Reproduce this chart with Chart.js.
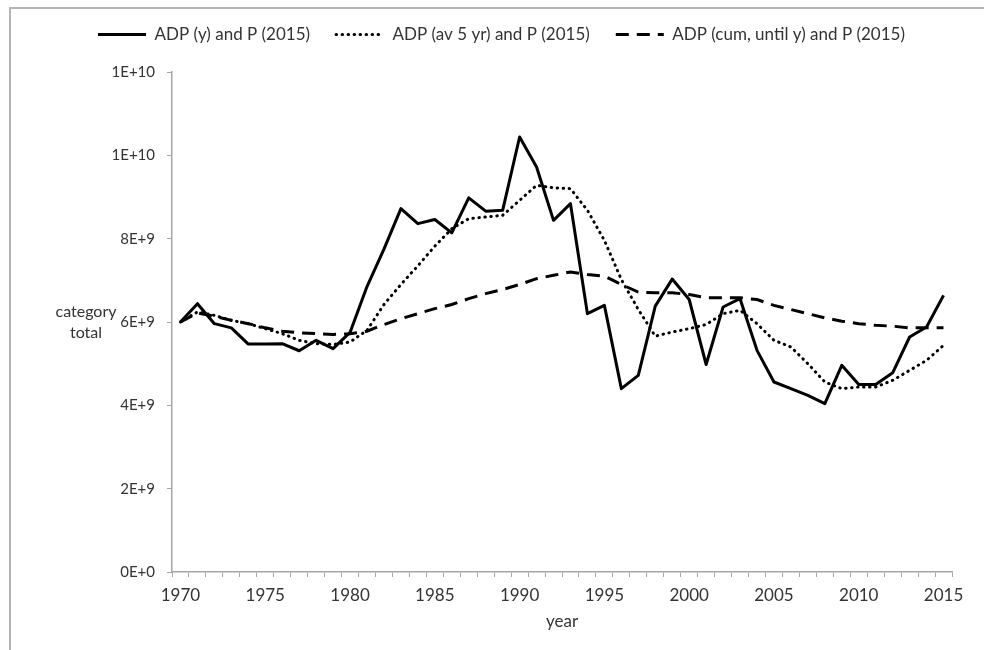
<!DOCTYPE html>
<html>
<head>
<meta charset="utf-8">
<script src="https://cdn.jsdelivr.net/npm/chart.js@4.4.1/dist/chart.umd.min.js"></script>
<style>
  html, body { margin: 0; padding: 0; background: #fff; overflow: hidden; }
  #frame { position: absolute; left: 9px; top: 7px; width: 1000px; height: 700px;
           border-left: 2px solid #b4b4b4; border-top: 2px solid #b4b4b4; }
  #wrap { position: absolute; left: 0; top: 0; width: 984px; height: 650px; }
</style>
</head>
<body>
<div id="frame"></div>
<div id="wrap"><canvas id="canvas" width="984" height="650"></canvas></div>
<script>
var years = [1970, 1971, 1972, 1973, 1974, 1975, 1976, 1977, 1978, 1979,
             1980, 1981, 1982, 1983, 1984, 1985, 1986, 1987, 1988, 1989,
             1990, 1991, 1992, 1993, 1994, 1995, 1996, 1997, 1998, 1999,
             2000, 2001, 2002, 2003, 2004, 2005, 2006, 2007, 2008, 2009,
             2010, 2011, 2012, 2013, 2014, 2015];

// ADP (y) and P (2015)
var adpYear = [6.00e9, 6.44e9, 5.96e9, 5.86e9, 5.47e9, 5.47e9, 5.48e9, 5.31e9, 5.56e9, 5.36e9,
               5.75e9, 6.85e9, 7.75e9, 8.72e9, 8.36e9, 8.46e9, 8.14e9, 8.98e9, 8.66e9, 8.68e9,
               10.44e9, 9.72e9, 8.44e9, 8.84e9, 6.20e9, 6.40e9, 4.40e9, 4.72e9, 6.38e9, 7.03e9,
               6.54e9, 4.98e9, 6.36e9, 6.56e9, 5.32e9, 4.56e9, 4.40e9, 4.24e9, 4.04e9, 4.96e9,
               4.50e9, 4.50e9, 4.78e9, 5.64e9, 5.88e9, 6.64e9];

// ADP (av 5 yr) and P (2015)
var adpAv5 = [6.00e9, 6.24e9, 6.16e9, 6.04e9, 5.96e9, 5.84e9, 5.72e9, 5.56e9, 5.48e9, 5.46e9,
              5.52e9, 5.80e9, 6.42e9, 6.90e9, 7.35e9, 7.82e9, 8.24e9, 8.48e9, 8.52e9, 8.56e9,
              8.92e9, 9.28e9, 9.22e9, 9.20e9, 8.68e9, 7.96e9, 7.02e9, 6.30e9, 5.66e9, 5.76e9,
              5.84e9, 5.94e9, 6.20e9, 6.28e9, 5.96e9, 5.56e9, 5.40e9, 5.00e9, 4.56e9, 4.40e9,
              4.44e9, 4.44e9, 4.60e9, 4.84e9, 5.08e9, 5.44e9];

// ADP (cum, until y) and P (2015)
var adpCum = [6.00e9, 6.22e9, 6.14e9, 6.04e9, 5.96e9, 5.86e9, 5.78e9, 5.74e9, 5.72e9, 5.70e9,
              5.72e9, 5.78e9, 5.94e9, 6.08e9, 6.20e9, 6.32e9, 6.42e9, 6.56e9, 6.68e9, 6.78e9,
              6.90e9, 7.04e9, 7.12e9, 7.20e9, 7.14e9, 7.10e9, 6.90e9, 6.72e9, 6.70e9, 6.70e9,
              6.66e9, 6.58e9, 6.58e9, 6.58e9, 6.54e9, 6.40e9, 6.30e9, 6.20e9, 6.10e9, 6.02e9,
              5.96e9, 5.92e9, 5.90e9, 5.86e9, 5.86e9, 5.86e9];

var yTickLabels = ["0E+0", "2E+9", "4E+9", "6E+9", "8E+9", "1E+10", "1E+10"];

var FONT = "Lato, 'Open Sans', sans-serif";
var FSIZE = 17;
var TEXT = "#333333";
var AXIS = "#a6a6a6";

// horizontal y axis title, centred on the plot height
var yTitlePlugin = {
	id : 'yTitle',
	afterDraw : function(chart) {
		var ctx = chart.ctx, a = chart.chartArea;
		var mid = (a.top + a.bottom) / 2;
		ctx.save();
		ctx.font = "16px " + FONT;
		ctx.fillStyle = TEXT;
		ctx.textAlign = "center";
		ctx.textBaseline = "middle";
		ctx.fillText("category", 86, mid - 10);
		ctx.fillText("total", 86, mid + 11);
		ctx.restore();
	}
};

var ctx = document.getElementById("canvas").getContext("2d");
new Chart(ctx, {
	type : 'line',
	data : {
		labels : years,
		datasets : [ {
			label : 'ADP (y) and P (2015)',
			data : adpYear,
			borderColor : '#000',
			borderWidth : 3,
			borderJoinStyle : 'round'
		}, {
			label : 'ADP (av 5 yr) and P (2015)',
			data : adpAv5,
			borderColor : '#000',
			borderWidth : 3,
			borderDash : [ 0.5, 5.5 ],
			borderCapStyle : 'round'
		}, {
			label : 'ADP (cum, until y) and P (2015)',
			data : adpCum,
			borderColor : '#000',
			borderWidth : 3,
			borderDash : [ 13, 8 ]
		} ]
	},
	options : {
		responsive : false,
		animation : false,
		layout : {
			padding : { top : 0, right : 32, bottom : 0, left : 51 }
		},
		elements : {
			point : { radius : 0 },
			line : { tension : 0 }
		},
		plugins : {
			tooltip : { enabled : false },
			// empty spacer between legend and plot
			title : {
				display : true,
				text : '',
				weight : 500,
				padding : 0,
				font : { size : 19, lineHeight : 1 }
			},
			legend : {
				position : 'top',
				labels : {
					usePointStyle : true,
					pointStyle : 'line',
					pointStyleWidth : 48,
					padding : 26,
					color : TEXT,
					font : { family : FONT, size : FSIZE },
					generateLabels : function(chart) {
						var items = Chart.defaults.plugins.legend.labels.generateLabels(chart);
						items.forEach(function(it, i) {
							var ds = chart.data.datasets[i];
							it.lineDash = ds.borderDash || [];
							it.lineWidth = ds.borderWidth;
							it.lineCap = ds.borderCapStyle || 'butt';
							it.strokeStyle = ds.borderColor;
							it.pointStyle = 'line';
						});
						return items;
					}
				}
			}
		},
		scales : {
			x : {
				type : 'category',
				offset : true,
				afterFit : function(s) { s.height = 78; },
				grid : {
					offset : true,
					drawOnChartArea : false,
					drawTicks : true,
					tickLength : 5,
					color : AXIS
				},
				border : { color : AXIS, width : 1.5 },
				ticks : {
					autoSkip : false,
					maxRotation : 0,
					padding : 8,
					color : TEXT,
					font : { family : FONT, size : FSIZE },
					callback : function(v, i) {
						return years[i] % 5 === 0 ? String(years[i]) : '';
					}
				},
				title : {
					display : true,
					text : 'year',
					color : TEXT,
					font : { family : FONT, size : FSIZE },
					padding : { top : 0, bottom : 18 }
				}
			},
			y : {
				min : 0,
				max : 1.2e10,
				afterFit : function(s) { s.width = 121; },
				grid : {
					drawOnChartArea : false,
					drawTicks : true,
					tickLength : 5,
					color : AXIS
				},
				border : { color : AXIS, width : 1.5 },
				ticks : {
					stepSize : 2e9,
					padding : 12,
					color : TEXT,
					font : { family : FONT, size : 15 },
					callback : function(v, i) { return yTickLabels[i]; }
				}
			}
		}
	},
	plugins : [ yTitlePlugin ]
});
</script>
</body>
</html>
